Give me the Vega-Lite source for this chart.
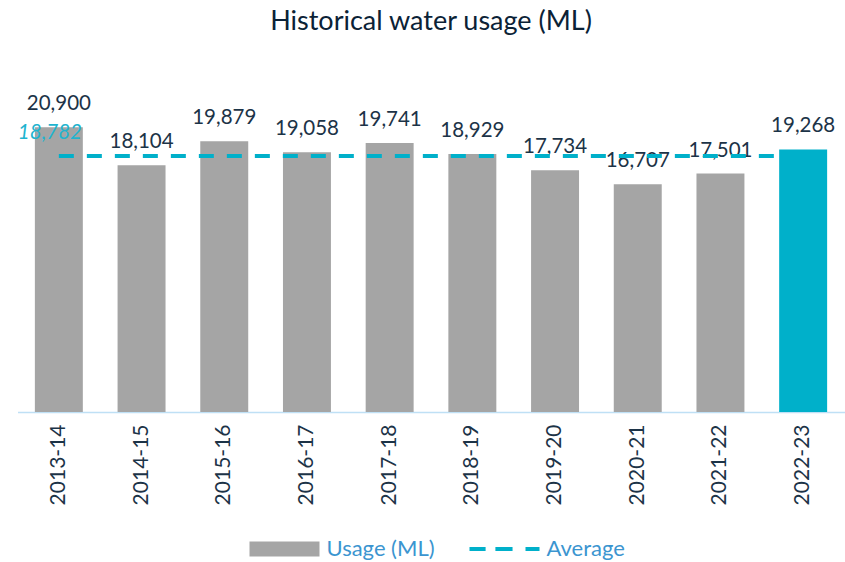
{
  "$schema": "https://vega.github.io/schema/vega-lite/v6.json",
  "width": 827,
  "height": 327,
  "autosize": {"type": "none"},
  "padding": {"left": 17.5, "top": 85, "right": 0, "bottom": 150},
  "background": "white",
  "config": {"view": {"stroke": null}, "font": "Lato"},
  "title": {"text": "Historical water usage (ML)", "fontSize": 27, "font": "Lato", "fontWeight": "normal", "color": "#0b2236", "anchor": "middle", "offset": 49},
  "datasets": {
    "usage": [
      {"year": "2013-14", "usage": 20900},
      {"year": "2014-15", "usage": 18104},
      {"year": "2015-16", "usage": 19879},
      {"year": "2016-17", "usage": 19058},
      {"year": "2017-18", "usage": 19741},
      {"year": "2018-19", "usage": 18929},
      {"year": "2019-20", "usage": 17734},
      {"year": "2020-21", "usage": 16707},
      {"year": "2021-22", "usage": 17501},
      {"year": "2022-23", "usage": 19268}
    ],
    "avg": [{"start": "2013-14", "end": "2022-23", "avg": 18782}],
    "legend": [{"series": "Usage (ML)"}, {"series": "Average"}]
  },
  "layer": [
    {
      "data": {"name": "usage"},
      "mark": {"type": "bar"},
      "encoding": {
        "x": {"field": "year", "type": "nominal", "sort": null,
          "scale": {"paddingInner": 0.42, "paddingOuter": 0.21},
          "axis": {"title": null, "labelAngle": -90, "labelFontSize": 21, "labelFont": "Lato", "labelColor": "#1c3347", "ticks": false, "labelPadding": 12, "domainColor": "#bfe0f5", "domainWidth": 1.5, "grid": false}},
        "y": {"field": "usage", "type": "quantitative", "scale": {"domain": [0, 24000]}, "axis": null},
        "color": {"condition": {"test": "datum.year === '2022-23'", "value": "#00b0ca"}, "value": "#a5a5a5"}
      }
    },
    {
      "data": {"name": "usage"},
      "mark": {"type": "text", "baseline": "alphabetic", "dy": -17, "fontSize": 20.5, "font": "Lato", "color": "#1c3347"},
      "encoding": {
        "x": {"field": "year", "type": "nominal", "sort": null},
        "y": {"field": "usage", "type": "quantitative"},
        "text": {"field": "usage", "type": "quantitative", "format": ","}
      }
    },
    {
      "data": {"name": "avg"},
      "mark": {"type": "rule", "color": "#00b0ca", "strokeWidth": 4, "strokeDash": [15, 13]},
      "encoding": {
        "x": {"field": "start", "type": "nominal", "bandPosition": 0.5},
        "x2": {"field": "end", "bandPosition": 0},
        "y": {"field": "avg", "type": "quantitative"}
      }
    },
    {
      "data": {"name": "avg"},
      "mark": {"type": "text", "align": "left", "baseline": "middle", "dx": -17, "dy": -23, "fontSize": 20.5, "font": "Lato", "fontStyle": "italic", "color": "#1fb4cf"},
      "encoding": {
        "x": {"field": "start", "type": "nominal", "bandPosition": 0},
        "y": {"field": "avg", "type": "quantitative"},
        "text": {"field": "avg", "type": "quantitative", "format": ","}
      }
    },
    {
      "data": {"name": "legend"},
      "mark": {"type": "point", "filled": true, "opacity": 0},
      "encoding": {
        "color": {"field": "series", "type": "nominal",
          "scale": {"domain": ["Usage (ML)", "Average"], "range": ["#a5a5a5", "#00b0ca"]},
          "legend": {"title": null, "orient": "none", "direction": "horizontal", "legendX": 232, "legendY": 429,
            "symbolSize": 4900, "symbolStrokeWidth": 0, "labelFontSize": 22, "labelFont": "Lato", "labelColor": "#3b95d0", "labelOffset": 7, "columnPadding": 34,
            "encode": {"symbols": {"update": {"opacity": {"value": 1}}}}}},
        "shape": {"field": "series", "type": "nominal",
          "scale": {"domain": ["Usage (ML)", "Average"], "range": ["M-1,-0.214H1V0.214H-1Z", "M-1,-0.06H-0.54V0.06H-1Z M-0.26,-0.06H0.23V0.06H-0.26Z M0.6,-0.06H1V0.06H0.6Z"]},
          "legend": null}
      }
    }
  ]
}
